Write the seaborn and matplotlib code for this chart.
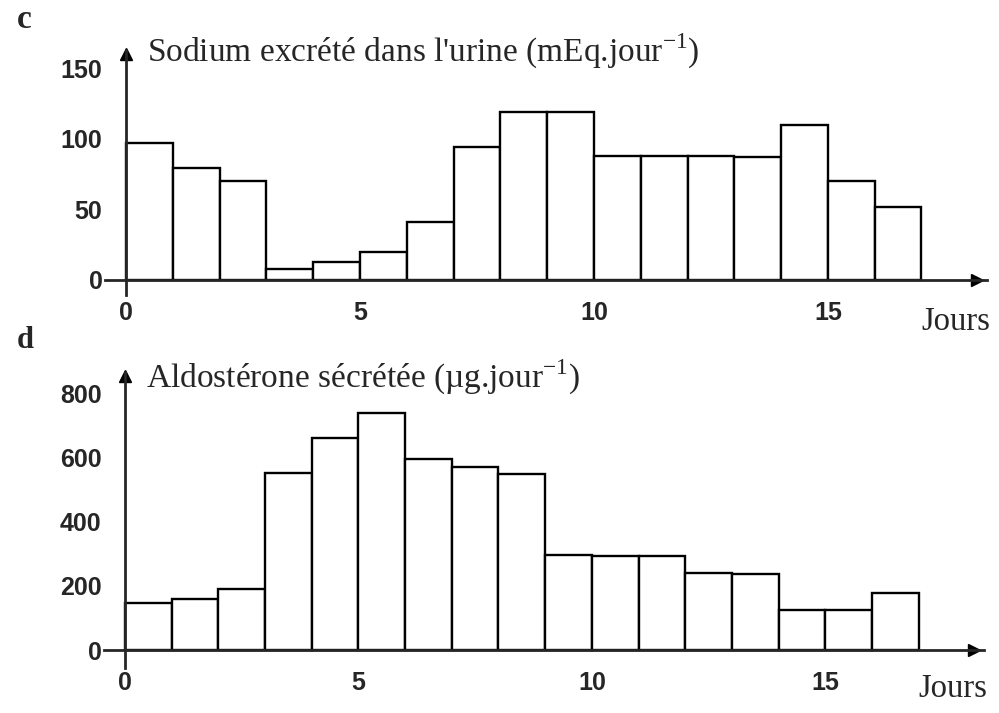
import numpy as np
import pandas as pd
import matplotlib
matplotlib.use('Agg')
import matplotlib.pyplot as plt
import seaborn as sns

# Days (bin edges) and daily values
days = list(range(17))
edges = list(range(18))
sodium = [97, 79, 70, 8, 13, 20, 41, 94, 119, 119, 88, 88, 88, 87, 110, 70, 52]
aldosterone = [146, 160, 190, 550, 660, 738, 595, 570, 548, 296, 294, 294, 240, 238, 125, 125, 178]

sodium_ticks = [0, 50, 100, 150]
aldo_ticks = [0, 200, 400, 600, 800]
day_ticks = [0, 5, 10, 15]

df = pd.DataFrame({'jour': np.array(days) + 0.5, 'sodium': sodium, 'aldo': aldosterone})

sns.set_style('white')
plt.rcParams['font.family'] = ['Liberation Sans', 'DejaVu Sans']
plt.rcParams['mathtext.fontset'] = 'custom'
plt.rcParams['mathtext.rm'] = 'Liberation Serif'

fig = plt.figure(figsize=(9.99, 7.13), dpi=100)
W, H = 999, 713


def px_axes(left, top, right, bottom):
    return fig.add_axes([left / W, 1 - bottom / H, (right - left) / W, (bottom - top) / H])


ax1 = px_axes(105, 50, 987, 295)
ax2 = px_axes(104, 372, 984, 668)


def style(ax, col, ylim, yticks, title, title_dy, jours_dy):
    sns.histplot(data=df, x='jour', weights=col, bins=edges, ax=ax,
                 color='white', edgecolor='black', linewidth=1.7, alpha=1)
    ax.set_xlim(-0.45, 18.4)
    ax.set_ylim(*ylim)
    for s in ['top', 'right']:
        ax.spines[s].set_visible(False)
    ax.spines['left'].set_position(('data', 0))
    ax.spines['bottom'].set_position(('data', 0))
    ax.spines['left'].set_linewidth(2)
    ax.spines['bottom'].set_linewidth(2)
    # arrow heads
    ax.plot(0.989, 0, '>k', ms=9, transform=ax.get_yaxis_transform(), clip_on=False)
    ax.plot(0, 0.985, '^k', ms=8, transform=ax.get_xaxis_transform(), clip_on=False)
    ax.set_xticks(day_ticks)
    ax.set_yticks(yticks)
    ax.tick_params(axis='y', direction='out', length=14, width=1.8, labelsize=18, pad=3)
    ax.tick_params(axis='x', direction='out', length=9, width=1.8, labelsize=18, pad=6)
    for t in ax.get_xticklabels() + ax.get_yticklabels():
        t.set_fontweight('bold')
    ax.set_xlabel('')
    ax.set_ylabel('')
    ax.annotate(title, xy=(0.45, 1.0), xycoords=ax.get_xaxis_transform(),
                xytext=(0, title_dy), textcoords='offset points',
                ha='left', va='center', fontsize=24, family='Liberation Serif')
    ax.annotate('Jours', xy=(17.0, 0), xycoords='data', xytext=(0, jours_dy),
                textcoords='offset points', ha='left', va='center',
                fontsize=23.5, family='Liberation Serif')


style(ax1, 'sodium', (-10.7, 163), sodium_ticks,
      "Sodium excrété dans l'urine (mEq.jour$^{\\mathregular{-1}}$)", -1, -30)
style(ax2, 'aldo', (-56, 866), aldo_ticks,
      "Aldostérone sécrétée (µg.jour$^{\\mathregular{-1}}$)", -4, -28)

fig.text(17 / W, 1 - 19 / H, 'c', fontsize=24, fontweight='bold', family='Liberation Serif', va='center')
fig.text(17 / W, 1 - 340 / H, 'd', fontsize=22, fontweight='bold', family='Liberation Serif', va='center')

fig.savefig('out.png', dpi=100)
